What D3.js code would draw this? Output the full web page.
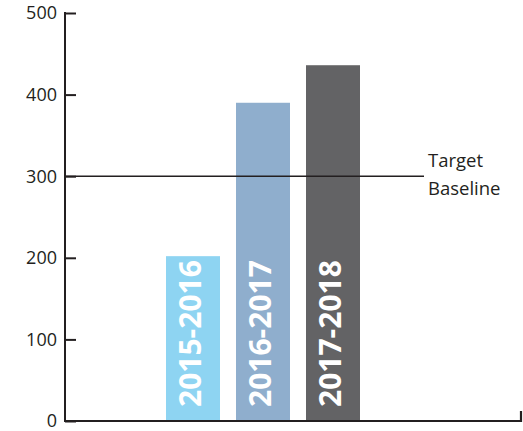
<!DOCTYPE html>
<html><head><meta charset="utf-8">
<script src="https://cdn.jsdelivr.net/npm/d3@7"></script>
<style>body{margin:0;background:#fff}svg{display:block}</style>
</head><body>
<svg id="c" width="523" height="431"></svg>
<script>
const categories = ["2015-2016", "2016-2017", "2017-2018"];
const values = [202, 390, 436];
const barColors = ["#8ed4f2", "#8faecd", "#636365"];
const yTicks = [0, 100, 200, 300, 400, 500];
const targetValue = 300;
const targetLabel = ["Target", "Baseline"];

const svg = d3.select("#c");
const axisColor = "#231f20";
const x0 = 65, x1 = 521;
const y = d3.scaleLinear().domain([0, 500]).range([421, 13]);
const x = d3.scaleBand().domain(categories).range([166, 360]).paddingInner(16/70).paddingOuter(0);

// bars
svg.selectAll("rect.bar").data(categories).join("rect")
  .attr("x", d => x(d)).attr("width", x.bandwidth())
  .attr("y", (d,i) => y(values[i])).attr("height", (d,i) => y(0) - y(values[i]))
  .attr("fill", (d,i) => barColors[i]);

// bar labels
svg.selectAll("text.bl").data(categories).join("text")
  .attr("transform", d => `translate(${x(d) + x.bandwidth()/2 + 8},${y(0) - 14}) rotate(-90)`)
  .attr("fill", "#fff").attr("font-family", "'Open Sans', sans-serif")
  .attr("font-weight", 700).attr("font-size", 30)
  .text(d => d);

// target line
svg.append("line").attr("x1", x0).attr("x2", 424)
  .attr("y1", y(targetValue)).attr("y2", y(targetValue))
  .attr("stroke", axisColor).attr("stroke-width", 1.5);
svg.selectAll("text.tl").data(targetLabel).join("text")
  .attr("x", 428).attr("y", (d,i) => 167 + i*28)
  .attr("fill", axisColor).attr("font-family", "'Open Sans', sans-serif")
  .attr("font-size", 18.5).text(d => d);

// y axis
const yAxis = d3.axisRight(y).tickValues(yTicks).tickSize(11).tickFormat("");
const gy = svg.append("g").attr("transform", `translate(${x0},0)`).call(yAxis);
gy.select(".domain").remove();
gy.selectAll(".tick line").attr("stroke", axisColor).attr("stroke-width", 2);
svg.append("line").attr("x1", x0).attr("x2", x0).attr("y1", y(500) - 1).attr("y2", y(0) + 1)
  .attr("stroke", axisColor).attr("stroke-width", 2);
svg.selectAll("text.yl").data(yTicks).join("text")
  .attr("x", 57).attr("y", d => y(d)).attr("dy", "0.36em")
  .attr("text-anchor", "end").attr("fill", axisColor)
  .attr("font-family", "'Open Sans', sans-serif").attr("font-size", 18)
  .text(d => d);

// x axis
svg.append("path").attr("d", `M${x0},${y(0)}H${x1}V${y(0) - 10}`)
  .attr("fill", "none").attr("stroke", axisColor).attr("stroke-width", 2.2);
</script>
</body></html>
